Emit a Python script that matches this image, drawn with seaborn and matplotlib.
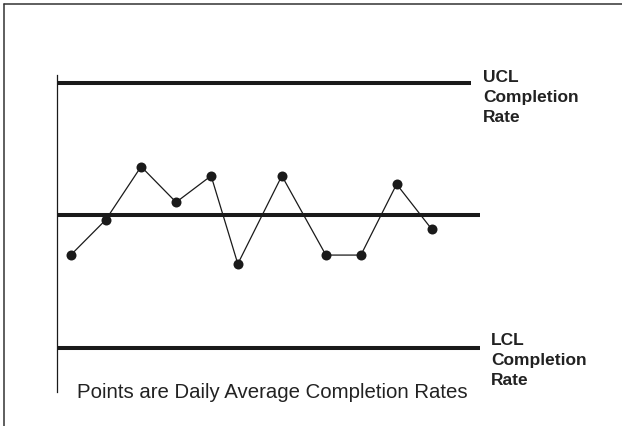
import numpy as np
import pandas as pd
import seaborn as sns
import matplotlib.pyplot as plt
from matplotlib.lines import Line2D

# daily average completion rates, in sigma units from the centre line
days = [1, 1.97, 2.95, 3.92, 4.89, 5.63, 6.85, 8.07, 9.04, 10.03, 11]
rates = [-0.90, -0.10, 1.11, 0.30, 0.90, -1.10, 0.90, -0.90, -0.90, 0.71, -0.31]
center_line = 0.0
ucl = 3.0
lcl = -3.0
ucl_label = "UCL\nCompletion\nRate"
lcl_label = "LCL\nCompletion\nRate"
note = "Points are Daily Average Completion Rates"

W, H = 622, 426

sns.set_style("white")
plt.rcParams['font.family'] = ['Liberation Sans', 'DejaVu Sans']

fig = plt.figure(figsize=(W / 100, H / 100), dpi=100)
ax = fig.add_axes([57 / W, 1 - 392 / H, (480 - 57) / W, (392 - 75) / H])

df = pd.DataFrame({'day': days, 'rate': rates})
sns.lineplot(data=df, x='day', y='rate', ax=ax, color='#1a1a1a', linewidth=0.9,
             marker='o', markersize=7.2, markeredgewidth=0, markerfacecolor='#1a1a1a')

ax.set_xlim(0.62, 12.34)
ax.set_ylim(-4.01, 3.19)

ax.hlines(ucl, 0.62, 12.09, color='#1a1a1a', linewidth=2.9)
ax.hlines(center_line, 0.62, 12.34, color='#1a1a1a', linewidth=2.9)
ax.hlines(lcl, 0.62, 12.34, color='#1a1a1a', linewidth=2.9)

for side in ['top', 'right', 'bottom']:
    ax.spines[side].set_visible(False)
ax.spines['left'].set_color('#1a1a1a')
ax.spines['left'].set_linewidth(0.9)
ax.set_xticks([])
ax.set_yticks([])
ax.set_xlabel('')
ax.set_ylabel('')
ax.patch.set_alpha(0)

# labels next to the limit lines (baseline = last line)
fig.text(483 / W, 1 - 122 / H, ucl_label, fontsize=12.5, fontweight='bold',
         color='#222222', va='baseline', ha='left', linespacing=1.41)
fig.text(491 / W, 1 - 385 / H, lcl_label, fontsize=12.5, fontweight='bold',
         color='#222222', va='baseline', ha='left', linespacing=1.41)
fig.text(77 / W, 1 - 398 / H, note, fontsize=14.7, color='#222222',
         va='baseline', ha='left')

# frame at the top and left edge of the picture
fig.add_artist(Line2D([4 / W, 1], [1 - 4 / H, 1 - 4 / H], color='#333333', linewidth=1.1))
fig.add_artist(Line2D([4 / W, 4 / W], [0, 1 - 4 / H], color='#333333', linewidth=1.1))

fig.savefig('out.png', dpi=100)
